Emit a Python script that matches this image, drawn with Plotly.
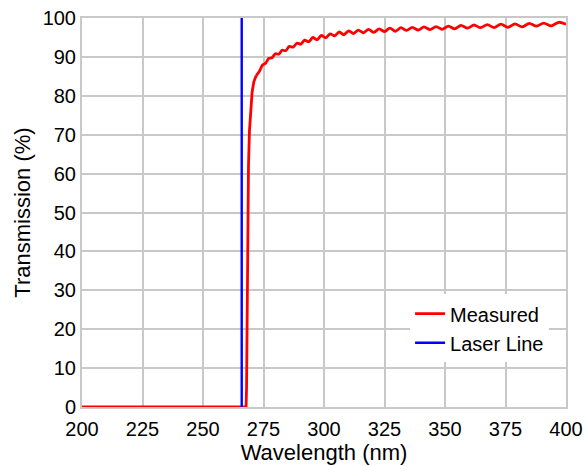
import plotly.graph_objects as go

# Measured transmission: steep edge (nm, %)
edge_wavelength = [200, 267.8, 268.0, 268.2, 268.5, 268.8, 269.2, 269.7, 270.3, 271.0, 272.0]
edge_transmission = [0, 0, 5, 25, 50, 62, 71, 77, 81, 83.6, 85.2]

# Measured transmission: rippled plateau (nm, %)
plateau_wavelength = [272.0, 273.3, 274.6, 275.9, 277.2, 278.5, 279.9, 281.3, 282.7, 284.2,
                      285.7, 287.2, 288.8, 290.4, 292.0, 293.7, 295.4, 297.1, 298.9, 300.7,
                      302.5, 304.4, 306.3, 308.2, 310.2, 312.2, 314.2, 316.3, 318.4, 320.6,
                      322.8, 325.0, 327.2, 329.5, 331.8, 334.1, 336.5, 338.9, 341.3, 343.8,
                      346.3, 348.8, 351.4, 354.0, 356.6, 359.3, 362.0, 364.7, 367.5, 370.3,
                      373.1, 376.0, 378.9, 381.8, 384.8, 387.8, 390.8, 393.9, 397.0, 400.0]
plateau_transmission = [85.2, 86.3, 87.9, 88.4, 89.6, 89.8, 90.8, 90.7, 91.7, 91.6,
                        92.7, 92.5, 93.5, 93.3, 94.3, 93.9, 95.0, 94.4, 95.5, 94.9,
                        95.9, 95.4, 96.4, 95.7, 96.7, 96.0, 96.9, 96.2, 97.1, 96.3,
                        97.2, 96.5, 97.4, 96.6, 97.5, 96.8, 97.6, 96.9, 97.7, 97.0,
                        97.8, 97.1, 97.9, 97.2, 98.1, 97.4, 98.2, 97.5, 98.3, 97.5,
                        98.4, 97.6, 98.5, 97.7, 98.6, 97.9, 98.7, 98.0, 98.9, 98.4]

# Laser line
laser_x = [266, 266]
laser_y = [0, 100]

x_ticks = [200, 225, 250, 275, 300, 325, 350, 375, 400]
y_ticks = [0, 10, 20, 30, 40, 50, 60, 70, 80, 90, 100]

RED = "#ff0000"
BLUE = "#0000ff"

fig = go.Figure()
fig.add_trace(go.Scatter(x=edge_wavelength, y=edge_transmission, mode="lines", name="Measured",
                         legendgroup="m", line=dict(color=RED, width=2.8)))
fig.add_trace(go.Scatter(x=plateau_wavelength, y=plateau_transmission, mode="lines", name="Measured",
                         legendgroup="m", showlegend=False,
                         line=dict(color=RED, width=2.8, shape="spline", smoothing=0.8)))
fig.add_trace(go.Scatter(x=laser_x, y=laser_y, mode="lines", name="Laser Line",
                         line=dict(color=BLUE, width=2.4)))

font = "Arial"
axis_common = dict(ticks="", showgrid=True, gridcolor="#c8c8c8", gridwidth=2,
                   showline=True, linecolor="#c8c8c8", linewidth=2, mirror=True,
                   zeroline=False, automargin=False, tickfont=dict(size=20))
fig.update_layout(
    width=585, height=466,
    margin=dict(l=82, r=19, t=18, b=59),
    paper_bgcolor="white", plot_bgcolor="white",
    font=dict(family=font, size=20, color="black"),
    legend=dict(x=0.965, y=0.29, xanchor="right", yanchor="top",
                bgcolor="white", borderwidth=0, font=dict(size=20),
                tracegroupgap=0),
    xaxis=dict(range=[200, 400], tickvals=x_ticks, ticklabelstandoff=3,
               title=dict(text="Wavelength (nm)", font=dict(size=22), standoff=6),
               **axis_common),
    yaxis=dict(range=[0, 100], tickvals=y_ticks,
               title=dict(text="Transmission (%)", font=dict(size=22), standoff=6),
               **axis_common),
)
fig.write_html("out.html", config={"displayModeBar": False},
               post_script="document.body.style.margin='0';document.body.style.padding='0';")
